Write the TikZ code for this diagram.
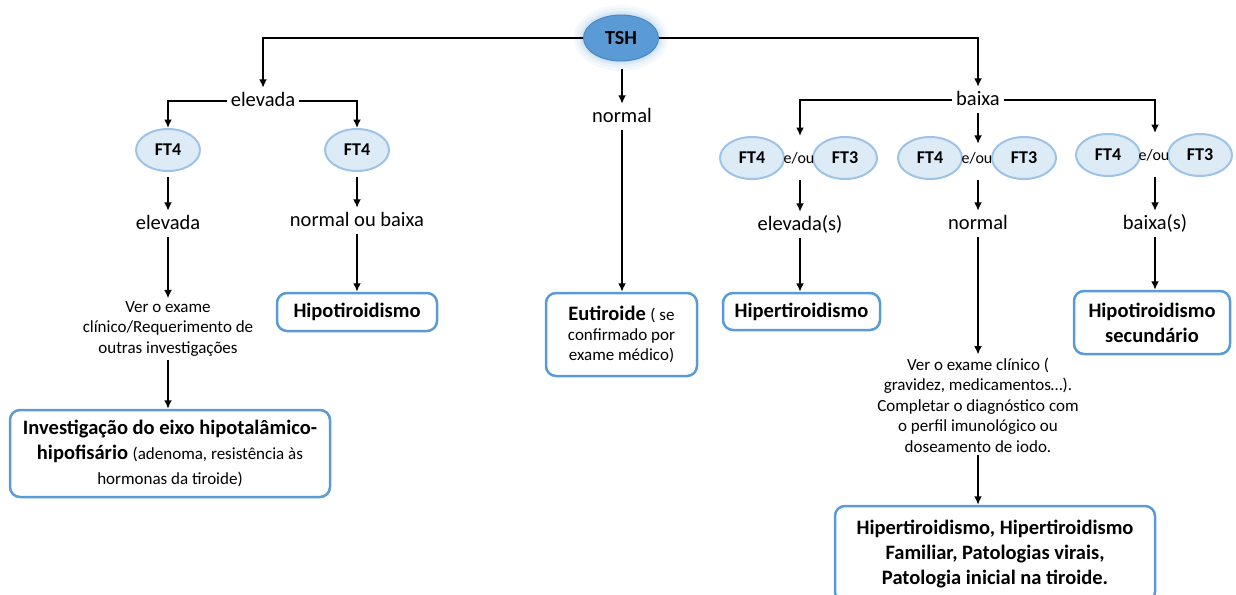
\documentclass[tikz,border=0pt]{standalone}
\usepackage{fontspec}
\setmainfont{Carlito}
\usepackage{xcolor}
\usetikzlibrary{shapes}
\usetikzlibrary{arrows.meta}
\tikzset{>={Latex[length=8.5pt,width=8pt]}}
\definecolor{boxblue}{HTML}{5B9BD5}
\definecolor{ftfill}{HTML}{DDEBF7}
\definecolor{ftline}{HTML}{9DC3E6}
\definecolor{tshfill}{HTML}{5B9BD5}
\definecolor{tshline}{HTML}{4A86C2}
\definecolor{glowblue}{HTML}{BDD7EE}

\begin{document}
\begin{tikzpicture}[x=1pt, y=-1pt]
\tikzset{lab/.style={font=\fontsize{20.5}{24}\selectfont, text height=14pt, text depth=4pt, inner sep=4pt}}
\tikzset{note/.style={font=\fontsize{17}{20.5}\selectfont, align=center, inner sep=3pt}}
\tikzset{ftell/.style={ellipse, draw=ftline, fill=ftfill, line width=2pt, minimum width=64pt, minimum height=42pt, inner sep=0pt, font=\bfseries\fontsize{18}{20}\selectfont}}
\tikzset{eou/.style={font=\fontsize{16}{18}\selectfont, inner sep=0pt, minimum height=28pt}}
\tikzset{result/.style={draw=boxblue, fill=white, line width=2.5pt, rounded corners=10pt, align=center, inner sep=0pt}}
\tikzset{big/.style={font=\fontsize{20.5}{25}\selectfont}}
\tikzset{conn/.style={line width=2pt, ->}}
    \useasboundingbox (0,0) rectangle (1236,594);

    % TSH with its glow
    \foreach \g/\o in {10/0.15,7/0.2,4/0.3,2/0.4}
        \fill[glowblue, opacity=\o] (621,38) ellipse [x radius=37.5pt+\g pt, y radius=23pt+\g pt];
    \node[ellipse, fill=tshfill, draw=tshline, line width=1pt, minimum width=75pt, minimum height=46pt, inner sep=0pt, font=\bfseries\fontsize{20}{22}\selectfont] (tsh) at (621,38) {TSH};

    \node[lab] (elevA) at (263,101) {elevada};
    \node[lab] (normC) at (622,117) {normal};
    \node[lab] (baixA) at (978,100) {baixa};

    \draw[conn] (tsh.west) -| (elevA.north);
    \draw[conn] (tsh.east) -| (baixA.north);
    \draw[conn, shorten <=7pt] (tsh.south -| normC) -- (normC.north);
% % % % % % % % % % % % % % % % % % %
    \node[ftell] (ft4a) at (168,150) {FT4};
    \node[ftell] (ft4b) at (357,150) {FT4};
    \draw[conn] (elevA.west) -| (ft4a.north);
    \draw[conn] (elevA.east) -| (ft4b.north);

    \node[lab] (elevB) at (168,224) {elevada};
    \node[note] (verA) at (168,329) {Ver o exame\\clínico/Requerimento de\\outras investigações};
    \node[result, big, minimum width=320pt, minimum height=87pt] (invest) at (170,453.5)
        {\textbf{Investigação do eixo hipotalâmico-}\\\textbf{hipofisário} {\fontsize{17}{20}\selectfont (adenoma, resistência às}\\{\fontsize{17}{20}\selectfont hormonas da tiroide)}};
    \draw[conn, shorten <=5pt] (ft4a) -- (elevB);
    \draw[conn] (elevB) -- (verA);
    \draw[conn] (verA) -- (verA |- invest.north);

    \node[lab] (normB) at (357,221) {normal ou baixa};
    \node[result, big, minimum width=160pt, minimum height=38pt] (hipoA) at (357,312) {\textbf{Hipotiroidismo}};
    \draw[conn, shorten <=5pt] (ft4b) -- (normB);
    \draw[conn] (normB) -- (hipoA);
% % % % % % % % % % % % % % % % % % %
    \node[result, font=\fontsize{20.5}{20}\selectfont, minimum width=151pt, minimum height=83pt] (eutir) at (621.5,334.5)
        {\textbf{Eutiroide} {\fontsize{17}{20}\selectfont ( se}\\{\fontsize{17}{20}\selectfont confirmado por}\\{\fontsize{17}{20}\selectfont exame médico)}};
    \draw[conn] (normC) -- (normC |- eutir.north);
% % % % % % % % % % % % % % % % % % %
    \node[ftell] (ft4d) at (752,158) {FT4};
    \node[ftell] (ft3d) at (845,158) {FT3};
    \node[eou] (eou1) at (799,158) {e/ou};
    \node[ftell] (ft4e) at (930,158) {FT4};
    \node[ftell] (ft3e) at (1024,158) {FT3};
    \node[eou] (eou2) at (977,158) {e/ou};
    \node[ftell] (ft4f) at (1108,155) {FT4};
    \node[ftell] (ft3f) at (1200,155) {FT3};
    \node[eou] (eou3) at (1154,155) {e/ou};

    \node[lab] (elevC) at (800,225) {elevada(s)};
    \node[lab] (normD) at (978,224) {normal};
    \node[lab] (baixB) at (1155,224) {baixa(s)};

    \draw[conn] (baixA.west) -| (ft4d.north -| elevC);
    \draw[conn] (baixA.east) -| (ft4f.north -| baixB);
    \draw[conn] (baixA) -- (baixA |- eou2.north);

    \draw[conn, shorten <=8pt] (eou1.south -| elevC) -- (elevC);
    \draw[conn, shorten <=8pt] (eou2.south -| normD) -- (normD);
    \draw[conn, shorten <=8pt] (eou3.south -| baixB) -- (baixB);

    \node[result, big, minimum width=157pt, minimum height=37pt] (hiper) at (801.5,311.5) {\textbf{Hipertiroidismo}};
    \draw[conn] (elevC) -- (elevC |- hiper.north);

    \node[note] (verB) at (978,405) {Ver o exame clínico (\\gravidez, medicamentos…).\\Completar o diagnóstico com\\o perfil imunológico ou\\doseamento de iodo.};
    \draw[conn] (normD) -- (normD |- verB.north);
    \node[result, big, minimum width=320pt, minimum height=96pt] (final) at (995,554)
        {\textbf{Hipertiroidismo, Hipertiroidismo}\\\textbf{Familiar, Patologias virais,}\\\textbf{Patologia inicial na tiroide.}};
    \draw[conn] (verB) -- (verB |- final.north);

    \node[result, big, minimum width=156pt, minimum height=63pt] (hipoS) at (1152,322.5) {\textbf{Hipotiroidismo}\\\textbf{secundário}};
    \draw[conn] (baixB) -- (baixB |- hipoS.north);
\end{tikzpicture}
\end{document}
